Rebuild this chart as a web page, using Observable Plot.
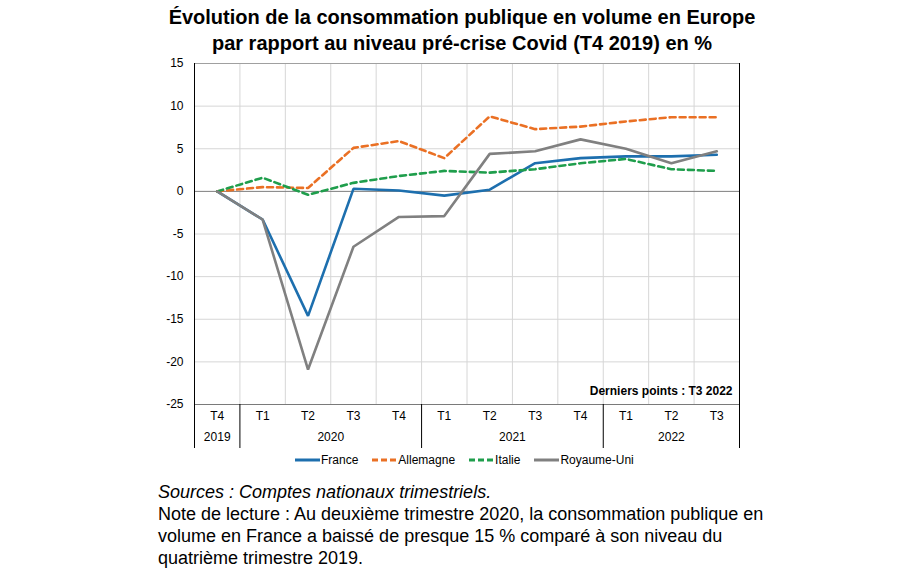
<!DOCTYPE html>
<html><head><meta charset="utf-8">
<script src="https://cdn.jsdelivr.net/npm/d3@7"></script>
<script src="https://cdn.jsdelivr.net/npm/@observablehq/plot@0.6"></script>
<style>
body{margin:0;background:#fff;font-family:"Liberation Sans",Arial,sans-serif;color:#000;}
#wrap{position:relative;width:918px;height:574px;overflow:hidden;background:#fff;}
#title{position:absolute;left:0;width:924px;top:4px;text-align:center;font-weight:bold;font-size:20px;line-height:26px;}
#chart{position:absolute;left:0;top:0;}
#legend{position:absolute;top:453px;left:295px;font-size:12px;display:flex;align-items:center;white-space:nowrap;}
#legend .it{display:flex;align-items:center;margin-right:14px;}
#legend svg{margin-right:1px;}
#notes{position:absolute;left:158px;top:481px;font-size:18px;line-height:22px;}
#notes .src{font-style:italic;}
</style></head>
<body><div id="wrap">
<div id="title">Évolution de la consommation publique en volume en Europe<br>par rapport au niveau pré-crise Covid (T4 2019) en %</div>
<div id="chart"></div>
<div id="legend"></div>
<div id="notes"><div class="src">Sources : Comptes nationaux trimestriels.</div>
<div>Note de lecture : Au deuxième trimestre 2020, la consommation publique en<br>volume en France a baissé de presque 15 % comparé à son niveau du<br>quatrième trimestre 2019.</div></div>
</div>
<script>
const quarters = ["T4","T1","T2","T3","T4","T1","T2","T3","T4","T1","T2","T3"];
const years    = ["2019","2020","2020","2020","2020","2021","2021","2021","2021","2022","2022","2022"];
const yearLabels = ["2019","2020","2021","2022"];
const yTicks = [-25,-20,-15,-10,-5,0,5,10,15];
const france     = [0, -3.3, -14.6, 0.3, 0.1, -0.5, 0.2, 3.3, 3.9, 4.1, 4.1, 4.3];
const allemagne  = [0, 0.5, 0.4, 5.1, 5.9, 3.9, 8.8, 7.3, 7.6, 8.2, 8.7, 8.7];
const italie     = [0, 1.6, -0.4, 1.0, 1.8, 2.4, 2.2, 2.6, 3.3, 3.8, 2.6, 2.4];
const royaumeUni = [0, -3.3, -20.9, -6.5, -3.0, -2.9, 4.4, 4.7, 6.1, 5.0, 3.3, 4.7];
const lastPointNote = "Derniers points : T3 2022";

const series = [
  {name:"France", values:france, color:"#1d6fae", dash:null},
  {name:"Allemagne", values:allemagne, color:"#ea7024", dash:"6,4"},
  {name:"Italie", values:italie, color:"#1f9e4c", dash:"6,4"},
  {name:"Royaume-Uni", values:royaumeUni, color:"#808080", dash:null}
];
const idx = quarters.map((_, i) => i);
const bounds = idx.slice(0, -1).map(i => i + 0.5);
const yearCenters = yearLabels.map(y => d3.mean(idx.filter(i => years[i] === y)));
const yearBounds = [-0.5, ...idx.slice(0, -1).filter(i => years[i] !== years[i+1]).map(i => i + 0.5), quarters.length - 0.5];

const lineMarks = series.map(s => Plot.line(s.values.map((v, i) => ({i, v})), {
  x: "i", y: "v", stroke: s.color, strokeWidth: 2.6, strokeDasharray: s.dash, strokeLinejoin: "miter"
}));

const chart = Plot.plot({
  width: 918, height: 448,
  marginLeft: 194, marginRight: 179, marginTop: 63, marginBottom: 44,
  style: {fontFamily: "'Liberation Sans', Arial, sans-serif", fontSize: "12px", color: "#000", background: "transparent"},
  x: {type: "linear", domain: [-0.5, quarters.length - 0.5], axis: null, label: null},
  y: {domain: [-25, 15], axis: null, label: null},
  marks: [
    Plot.ruleY(yTicks.filter(d => d !== 0 && d !== 15 && d !== -25), {stroke: "#d6d6d6", strokeWidth: 1}),
    Plot.ruleX(bounds, {stroke: "#d6d6d6", strokeWidth: 1}),
    Plot.ruleY([15], {stroke: "#a0a0a0"}),
    Plot.ruleY([0], {stroke: "#7f7f7f"}),
    Plot.ruleY([-25], {stroke: "#7a7a7a"}),
    Plot.ruleX([-0.5, quarters.length - 0.5], {stroke: "#000"}),
    Plot.axisY({ticks: yTicks, tickSize: 0, tickPadding: 11, fontSize: 12, label: null, tickFormat: d => String(d)}),
    Plot.axisX({ticks: idx, tickSize: 0, tickPadding: 7, tickFormat: d => quarters[d], fontSize: 12, label: null}),
    Plot.axisX({ticks: yearCenters, tickSize: 0, tickPadding: 28, tickFormat: d => yearLabels[yearCenters.indexOf(d)], fontSize: 12, label: null}),
    Plot.axisX({ticks: yearBounds, tickSize: 44, tickFormat: () => "", stroke: "#000", label: null}),
    ...lineMarks,
    Plot.text([lastPointNote], {frameAnchor: "bottom-right", dx: -7, dy: -10, fontWeight: "bold", fontSize: 12})
  ]
});
document.getElementById("chart").appendChild(chart);

const legend = document.getElementById("legend");
series.forEach(s => {
  const it = document.createElement("div");
  it.className = "it";
  it.innerHTML = `<svg width="25" height="8"><line x1="0" x2="25" y1="4" y2="4" stroke="${s.color}" stroke-width="3" ${s.dash ? 'stroke-dasharray="6,3"' : ''}/></svg><span>${s.name}</span>`;
  legend.appendChild(it);
});
</script>
</body></html>
